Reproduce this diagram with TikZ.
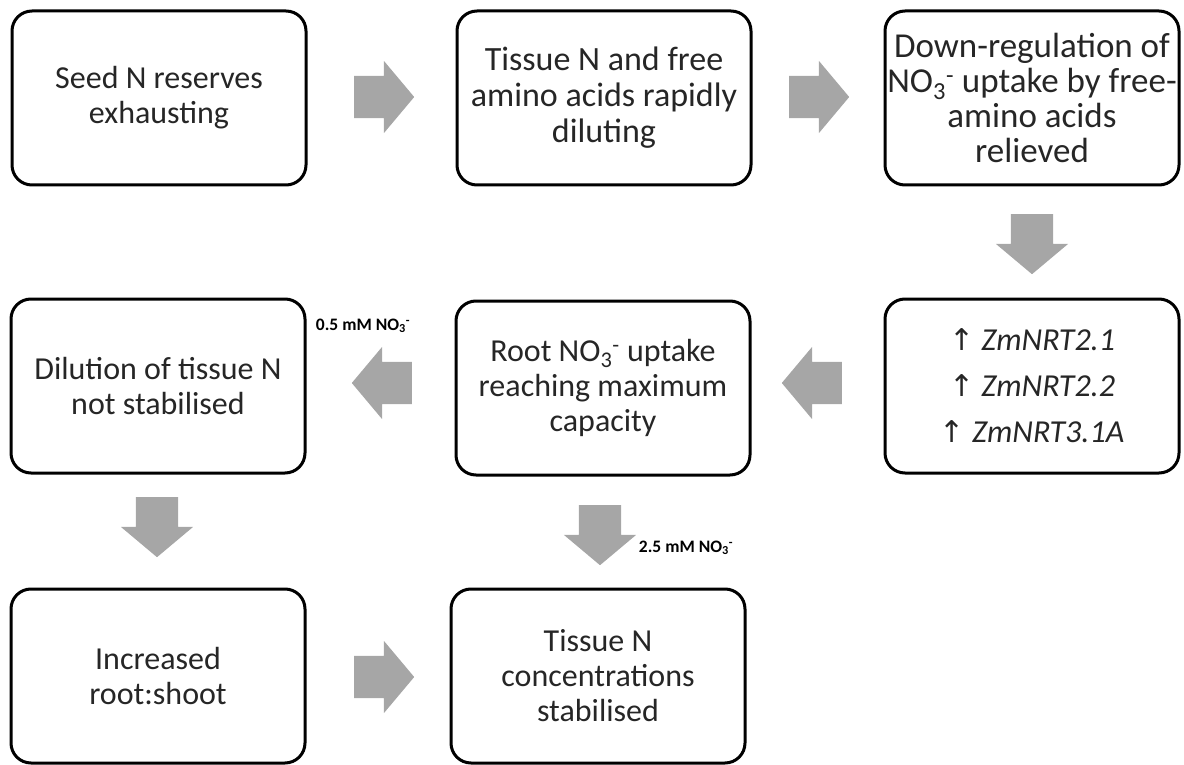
\documentclass[tikz,border=0pt]{standalone}
\usepackage{fontspec}
\setmainfont{Carlito}
\newfontfamily\symfont{DejaVu Sans}
\usetikzlibrary{shapes.arrows}
\definecolor{arrowgray}{HTML}{A6A6A6}
\definecolor{txt}{HTML}{262626}
\newcommand{\uparr}{{\upshape\symfont\fontsize{30}{46}\selectfont ↑}}
\newcommand{\nothree}{NO\textsubscript{3}\textsuperscript{-}}
\tikzset{
  box/.style={draw=black, line width=3pt, rounded corners=20pt,
    minimum width=294pt, minimum height=174pt, align=center, text=txt,
    font=\fontsize{32}{35}\selectfont, inner sep=0pt},
  fatarrow/.style={single arrow, fill=arrowgray, draw=none, anchor=tail,
    minimum height=60pt, inner xsep=0pt, inner ysep=21pt,
    single arrow head extend=15pt, single arrow tip angle=100},
  cond/.style={font=\bfseries\fontsize{17.5}{20}\selectfont, text=black, inner sep=0pt}
}
\begin{document}
\begin{tikzpicture}[x=1pt,y=-1pt]
\useasboundingbox (0,0) rectangle (1184,765);
% boxes
\node[box] (b1) at (159,98) {Seed N reserves\\exhausting};
\node[box, font=\fontsize{34}{36}\selectfont] (b2) at (604,98) {Tissue N and free\\amino acids rapidly\\diluting};
\node[box, font=\fontsize{35}{35}\selectfont] (b3) at (1032,98) {Down-regulation of\\\nothree{} uptake by free-\\amino acids\\relieved};
\node[box] (b4) at (158,386) {Dilution of tissue N\\not stabilised};
\node[box] (b5) at (603,388) {Root \nothree{} uptake\\reaching maximum\\capacity};
\node[box, font=\itshape\fontsize{32}{46}\selectfont] (b6) at (1032,386) {\uparr{} ZmNRT2.1\\\uparr{} ZmNRT2.2\\\uparr{} ZmNRT3.1A};
\node[box] (b7) at (158,676) {Increased\\root:shoot};
\node[box] (b8) at (598,676) {Tissue N\\concentrations\\stabilised};
% block arrows (placed by their tails)
\node[fatarrow] (a12) at (354,97) {};
\node[fatarrow] (a23) at (789,97) {};
\node[fatarrow, rotate=-90] (a36) at (1032,214) {};
\node[fatarrow, rotate=180] (a65) at (842,383) {};
\node[fatarrow, rotate=180] (a54) at (412,383) {};
\node[fatarrow, rotate=-90] (a47) at (157,497) {};
\node[fatarrow, rotate=-90] (a58) at (600,505) {};
\node[fatarrow] (a78) at (354,677) {};
% conditions
\node[cond] (c1) at (363,326) {0.5 mM \nothree};
\node[cond] (c2) at (686,548) {2.5 mM \nothree};
\end{tikzpicture}
\end{document}
